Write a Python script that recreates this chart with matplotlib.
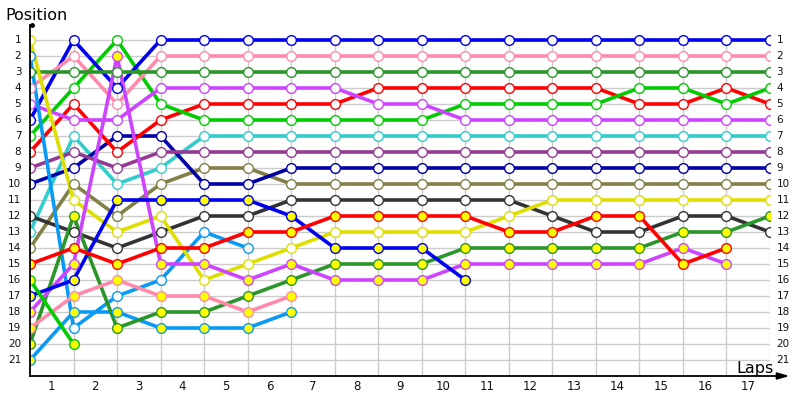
import matplotlib
matplotlib.use("Agg")
import matplotlib.pyplot as plt

laps = list(range(0, 18))
lap_labels = [str(i) for i in range(1, 18)]
position_labels = [str(i) for i in range(1, 22)]

# positions per lap (lap 0 = start); shorter lists = retired
yellow_w   = [1, 11, 13, 12, 16, 15, 14, 13, 13, 13, 13, 12, 11, 11, 11, 11, 11, 11]
lblue_w    = [2, 19, 17, 16, 13, 14]
dgreen_w   = [3, 3, 3, 3, 3, 3, 3, 3, 3, 3, 3, 3, 3, 3, 3, 3, 3, 3]
pink_w     = [4, 2, 5, 2, 2, 2, 2, 2, 2, 2, 2, 2, 2, 2, 2, 2, 2, 2]
purple_w   = [5, 6, 6, 4, 4, 4, 4, 4, 5, 5, 6, 6, 6, 6, 6, 6, 6, 6]
blue_w     = [6, 1, 4, 1, 1, 1, 1, 1, 1, 1, 1, 1, 1, 1, 1, 1, 1, 1]
lime_w     = [7, 4, 1, 5, 6, 6, 6, 6, 6, 6, 5, 5, 5, 5, 4, 4, 5, 4]
red_w      = [8, 5, 8, 6, 5, 5, 5, 5, 4, 4, 4, 4, 4, 4, 5, 5, 4, 5]
dpurple_w  = [9, 8, 9, 8, 8, 8, 8, 8, 8, 8, 8, 8, 8, 8, 8, 8, 8, 8]
navy_w     = [10, 9, 7, 7, 10, 10, 9, 9, 9, 9, 9, 9, 9, 9, 9, 9, 9, 9]
dgray_w    = [12, 13, 14, 13, 12, 12, 11, 11, 11, 11, 11, 11, 12, 13, 13, 12, 12, 13]
teal_w     = [13, 7, 10, 9, 7, 7, 7, 7, 7, 7, 7, 7, 7, 7, 7, 7, 7, 7]
olive_w    = [14, 10, 12, 10, 9, 9, 10, 10, 10, 10, 10, 10, 10, 10, 10, 10, 10, 10]
red_y      = [15, 14, 15, 14, 14, 13, 13, 12, 12, 12, 12, 13, 13, 12, 12, 15, 14]
lime_y     = [16, 20]
blue_y     = [17, 16, 11, 11, 11, 11, 12, 14, 14, 14, 16]
purple_y   = [18, 15, 2, 15, 15, 16, 15, 16, 16, 16, 15, 15, 15, 15, 15, 14, 15]
pink_y     = [19, 17, 16, 17, 17, 18, 17]
dgreen_y   = [20, 12, 19, 18, 18, 17, 16, 15, 15, 15, 14, 14, 14, 14, 14, 13, 13, 12]
lblue_y    = [21, 18, 18, 19, 19, 19, 18]

C = dict(yellow="#dede00", lblue="#0a9af5", dgreen="#2a962a", pink="#ff8aaa",
         purple="#cc44ff", blue="#0000ee", lime="#00cc00", red="#ff0000",
         dpurple="#943a94", navy="#0000a8", dgray="#333333", teal="#33cccc",
         olive="#828046")

series = [
    (olive_w, C["olive"], "white"), (teal_w, C["teal"], "white"),
    (dgray_w, C["dgray"], "white"), (navy_w, C["navy"], "white"),
    (dpurple_w, C["dpurple"], "white"), (red_w, C["red"], "white"),
    (lime_w, C["lime"], "white"), (blue_w, C["blue"], "white"),
    (purple_w, C["purple"], "white"), (pink_w, C["pink"], "white"),
    (dgreen_w, C["dgreen"], "white"), (lblue_w, C["lblue"], "white"),
    (yellow_w, C["yellow"], "white"),
    (lblue_y, C["lblue"], "#ffff00"), (dgreen_y, C["dgreen"], "#ffff00"),
    (pink_y, C["pink"], "#ffff00"), (purple_y, C["purple"], "#ffff00"),
    (blue_y, C["blue"], "#ffff00"), (lime_y, C["lime"], "#ffff00"),
    (red_y, C["red"], "#ffff00"),
]

fig = plt.figure(figsize=(8, 4), dpi=100)
fig.patch.set_facecolor("white")
ax = fig.add_axes([30 / 800, 24 / 400, 740 / 800, 352 / 400])
ax.set_xlim(0, 17)
ax.set_ylim(22, 0)
ax.axis("off")

grid_c = "#cccccc"
for p in range(1, 22):
    ax.plot([0, 17], [p, p], color=grid_c, lw=1, zorder=1)
for l in range(1, 18):
    ax.plot([l, l], [0.7, 22], color=grid_c, lw=1, zorder=1)

for vals, col, face in series:
    x = laps[:len(vals)]
    ax.plot(x, vals, color=col, lw=2.6, zorder=3, solid_capstyle="round")
    ax.plot(x, vals, ls="none", marker="o", ms=7, mfc=face, mec=col,
            mew=1.0, zorder=4)

# axes lines with arrows
ax.plot([0, 0], [22, 0.05], color="black", lw=1.3, zorder=5, clip_on=False)
ax.plot([0.05], [0.05], marker="o", ms=2.5, color="black", zorder=5, clip_on=False)
ax.annotate("", xy=(17.45, 22), xytext=(0, 22),
            arrowprops=dict(arrowstyle="-|>,head_length=0.7,head_width=0.2",
                            color="black", lw=1.3, shrinkA=0, shrinkB=0),
            annotation_clip=False, zorder=5)

for i, lab in enumerate(position_labels):
    p = i + 1
    ax.text(-0.2, p, lab, ha="right", va="center", fontsize=7.5,
            color="#111111", clip_on=False)
    ax.text(17.15, p, lab, ha="left", va="center", fontsize=7.5,
            color="#111111", clip_on=False)
for i, lab in enumerate(lap_labels):
    ax.text(i + 0.5, 22.65, lab, ha="center", va="center", fontsize=8.5,
            color="#111111", clip_on=False)

fig.text(5 / 800, 1 - 16 / 400, "Position", ha="left", va="center", fontsize=11.5)
fig.text(774 / 800, 1 - 368 / 400, "Laps", ha="right", va="center", fontsize=11.5)

fig.savefig("out.png", dpi=100)
